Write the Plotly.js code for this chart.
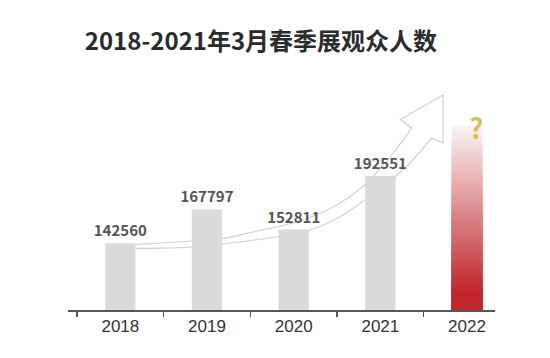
<!DOCTYPE html>
<html><head><meta charset="utf-8">
<script src="https://cdn.plot.ly/plotly-3.0.1.min.js"></script>
<style>html,body{margin:0;padding:0;background:#fff}</style>
</head><body><div id="chart" style="width:550px;height:358px"></div>
<script>
// ---- data ----
const years = ['2018', '2019', '2020', '2021'];
const visitors = [142560, 167797, 152811, 192551];
const forecastYear = '2022';
const forecastTop = 230000;          // estimated top of the fading 2022 bar
const allYears = ['2018', '2019', '2020', '2021', '2022'];
const forecastMark = '?';
const titleText = '2018-2021年3月春季展观众人数';

// ---- layout constants ----
const W = 550, H = 358;
const M = {l: 68, r: 55, t: 80, b: 48};
const plotW = W - M.l - M.r, plotH = H - M.t - M.b;
const yRange = [93000, 264000];
const xRange = [-0.604, 4.323];
const barWidth = 0.35;

// gradient for the forecast bar (styling only): nested bars from the axis,
// tallest (palest) drawn first, shorter (deeper red) drawn over it
const segCount = 60;
const segX = [], segBase = [], segLen = [], segColor = [];
const span = forecastTop - yRange[0];
for (let k = segCount; k >= 1; k--) {
  const f = (k - 0.5) / segCount;
  const a = f < 0.1 ? 1 : 1 - (f - 0.1) / 0.9 * 0.95;
  const r = Math.round(255 - a * (255 - 192));
  const g = Math.round(255 - a * (255 - 38));
  const b = Math.round(255 - a * (255 - 44));
  segX.push(forecastYear);
  segBase.push(yRange[0] - 1000);
  segLen.push(span * k / segCount + 1000);
  segColor.push(`rgb(${r},${g},${b})`);
}

// decorative hollow arrow (pixel positions in the picture, converted to paper)
const arrowUpper = [[126,245],[160,243],[192,241],[222,238.5],[255,231.5],[285,225],[310,217.5],[335,206],[360,189],[380,169],[398,147],[411.7,128]];
const arrowLower = [[126,248.5],[160,248.2],[192,247],[222,244],[255,240],[285,235.5],[310,230],[335,219.5],[360,203.5],[381,188],[400,172.5],[415,157.5],[431.7,138]];
const arrowHead = [[400.5,119.5],[443,95],[443,143]];

function toPaper(p) { return [(p[0] - M.l) / plotW, (H - M.b - p[1]) / plotH]; }
function fmt(p) { const q = toPaper(p); return q[0].toFixed(5) + ',' + q[1].toFixed(5); }
function smooth(pts) {
  let s = '';
  for (let i = 0; i < pts.length - 1; i++) {
    const p0 = pts[Math.max(i - 1, 0)], p1 = pts[i], p2 = pts[i + 1], p3 = pts[Math.min(i + 2, pts.length - 1)];
    const c1 = [p1[0] + (p2[0] - p0[0]) / 6, p1[1] + (p2[1] - p0[1]) / 6];
    const c2 = [p2[0] - (p3[0] - p1[0]) / 6, p2[1] - (p3[1] - p1[1]) / 6];
    s += ' C ' + fmt(c1) + ' ' + fmt(c2) + ' ' + fmt(p2);
  }
  return s;
}
let arrowPath = 'M ' + fmt(arrowUpper[0]) + smooth(arrowUpper);
arrowHead.forEach(p => { arrowPath += ' L ' + fmt(p); });
const lowerRev = arrowLower.slice().reverse();
arrowPath += ' L ' + fmt(lowerRev[0]) + smooth(lowerRev) + ' Z';

const traces = [
  {
    type: 'bar', x: years, y: visitors, width: barWidth,
    marker: {color: '#d9dbda', line: {width: 0}},
    text: visitors.map(String), textposition: 'outside', constraintext: 'none', cliponaxis: false,
    textfont: {family: 'Noto Sans CJK SC, Noto Sans', size: 15, weight: 700, color: '#555555'},
    hoverinfo: 'skip'
  },
  {
    type: 'bar', x: segX, y: segLen, base: segBase, width: barWidth,
    marker: {color: segColor, line: {width: 0}},
    hoverinfo: 'skip'
  }
];

const layout = {
  width: W, height: H,
  margin: {l: M.l, r: M.r, t: M.t, b: M.b, pad: 0},
  paper_bgcolor: '#ffffff', plot_bgcolor: '#ffffff',
  showlegend: false, barmode: 'overlay',
  title: {
    text: titleText,
    font: {family: 'Noto Sans CJK SC', size: 24, weight: 700, color: '#2b2b2b'},
    x: 0.4745, xanchor: 'center', xref: 'container',
    y: 0.883, yanchor: 'middle', yref: 'container'
  },
  xaxis: {
    type: 'category', categoryorder: 'array', categoryarray: allYears,
    range: xRange, tickson: 'boundaries', ticks: 'outside', ticklen: 5, tickwidth: 1.5, tickcolor: '#555555',
    showline: true, linecolor: '#555555', linewidth: 2, showgrid: false, zeroline: false,
    tickfont: {family: 'Liberation Sans, Arial', size: 17, color: '#333333'}, fixedrange: true
  },
  yaxis: {range: yRange, visible: false, showgrid: false, zeroline: false, fixedrange: true},
  shapes: [{
    type: 'path', xref: 'paper', yref: 'paper', layer: 'below', path: arrowPath,
    line: {color: '#cfcfcf', width: 1.2}, fillcolor: 'rgba(0,0,0,0)'
  }],
  annotations: [{
    x: allYears.indexOf(forecastYear), y: forecastTop, xref: 'x', yref: 'y', text: forecastMark, showarrow: false,
    xshift: 9, yshift: -1, xanchor: 'center', yanchor: 'middle',
    font: {family: 'Noto Sans CJK SC, Noto Sans', size: 28, weight: 700, color: '#d6bf50'}
  }]
};

Plotly.newPlot('chart', traces, layout, {displayModeBar: false, staticPlot: true});
</script>
</body></html>
